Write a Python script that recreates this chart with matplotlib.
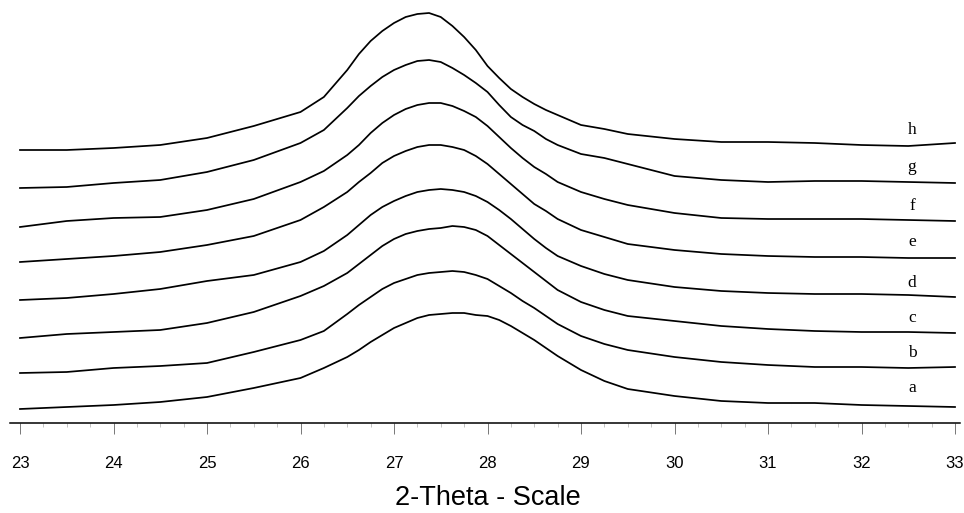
import numpy as np
import matplotlib
matplotlib.use("Agg")
import matplotlib.pyplot as plt
from matplotlib.ticker import MultipleLocator

# 2-theta sample positions (degrees)
two_theta = [23, 23.5, 24, 24.5, 25, 25.5, 26, 26.25,
             26.5, 26.625, 26.75, 26.875, 27, 27.125, 27.25, 27.375, 27.5,
             27.625, 27.75, 27.875, 28, 28.125, 28.25, 28.375, 28.5, 28.625, 28.75,
             29, 29.25, 29.5, 30, 30.5, 31, 31.5, 32, 32.5, 33]

px_h = [150, 150, 148, 145, 138, 126, 112, 97,
        70, 54, 41, 31, 23, 17, 14, 13, 17, 26, 37, 50, 66, 78, 89, 97, 104, 110, 115,
        125, 129, 134, 139, 142, 142, 143, 145, 146, 143]
px_g = [188, 187, 183, 180, 172, 160, 143, 130,
        108, 96, 86, 77, 70, 65, 61, 60, 62, 68, 75, 83, 92, 105, 117, 125, 131, 139, 145,
        154, 158, 164, 176, 180, 182, 181, 181, 182, 183]
px_f = [227, 221, 218, 217, 210, 199, 182, 171,
        155, 145, 133, 123, 115, 109, 105, 103, 103, 106, 111, 117, 126, 137, 148, 158, 167, 174, 182,
        192, 199, 205, 213, 218, 219, 219, 219, 220, 221]
px_e = [262, 259, 256, 252, 245, 236, 220, 207,
        192, 182, 173, 163, 156, 151, 147, 145, 145, 147, 150, 156, 164, 174, 184, 194, 204, 211, 219,
        230, 237, 244, 250, 254, 256, 257, 257, 258, 258]
px_d = [300, 298, 294, 289, 281, 275, 262, 251,
        235, 225, 215, 207, 201, 196, 192, 190, 189, 190, 192, 196, 202, 210, 219, 229, 239, 248, 256,
        266, 274, 280, 287, 291, 293, 294, 294, 295, 297]
px_c = [338, 334, 332, 330, 323, 312, 296, 286,
        273, 264, 255, 246, 239, 234, 231, 229, 228, 226, 227, 230, 236, 245, 254, 263, 272, 281, 290,
        302, 310, 316, 321, 326, 329, 331, 332, 332, 333]
px_b = [373, 372, 368, 366, 363, 352, 340, 331,
        314, 305, 297, 289, 283, 279, 275, 273, 272, 271, 272, 275, 279, 286, 293, 301, 308, 316, 324,
        336, 344, 350, 357, 362, 365, 367, 367, 368, 367]
px_a = [409, 407, 405, 402, 397, 388, 378, 368,
        357, 350, 342, 335, 328, 323, 318, 315, 314, 313, 313, 315, 316, 320, 326, 333, 340, 348, 356,
        370, 381, 389, 396, 401, 403, 403, 405, 406, 407]

labels = ["a", "b", "c", "d", "e", "f", "g", "h"]
series = [px_a, px_b, px_c, px_d, px_e, px_f, px_g, px_h]
label_x = 32.54
label_y = [35, 70, 105, 140, 181, 217, 256, 293]   # intensity units

tick_values = list(range(23, 34))
xlabel = "2-Theta - Scale"

TOP = 423.0
W, H = 964, 513
fig = plt.figure(figsize=(W / 100, H / 100), dpi=100)
ax = fig.add_axes([10 / W, 90 / H, 950 / W, 423 / H])

for s in series:
    ax.plot(two_theta, [TOP - v for v in s], color="black", lw=1.25,
            solid_joinstyle="round")

for lab, ly in zip(labels, label_y):
    ax.text(label_x, ly, lab, family="Liberation Serif", fontsize=12.5,
            ha="center", va="center")

ppu = 93.5
ax.set_xlim(23 - 10 / ppu, 33 + 5 / ppu)
ax.set_ylim(0, TOP)

for sp in ["top", "left", "right"]:
    ax.spines[sp].set_visible(False)
ax.spines["bottom"].set_linewidth(1.1)
ax.set_yticks([])
ax.set_xticks(tick_values)
ax.set_xticklabels([str(t) for t in tick_values], family="Liberation Sans",
                   fontsize=12)
ax.xaxis.set_minor_locator(MultipleLocator(0.25))
ax.tick_params(axis="x", which="major", direction="out", length=8, width=0.7,
               color="#777777", pad=16)
ax.tick_params(axis="x", which="minor", direction="out", length=3, width=0.5,
               color="#aaaaaa")

fig.text(488 / W, 1 - 498 / H, xlabel, family="Liberation Sans", fontsize=19.5,
         ha="center", va="center")

fig.savefig("out.png", dpi=100)
